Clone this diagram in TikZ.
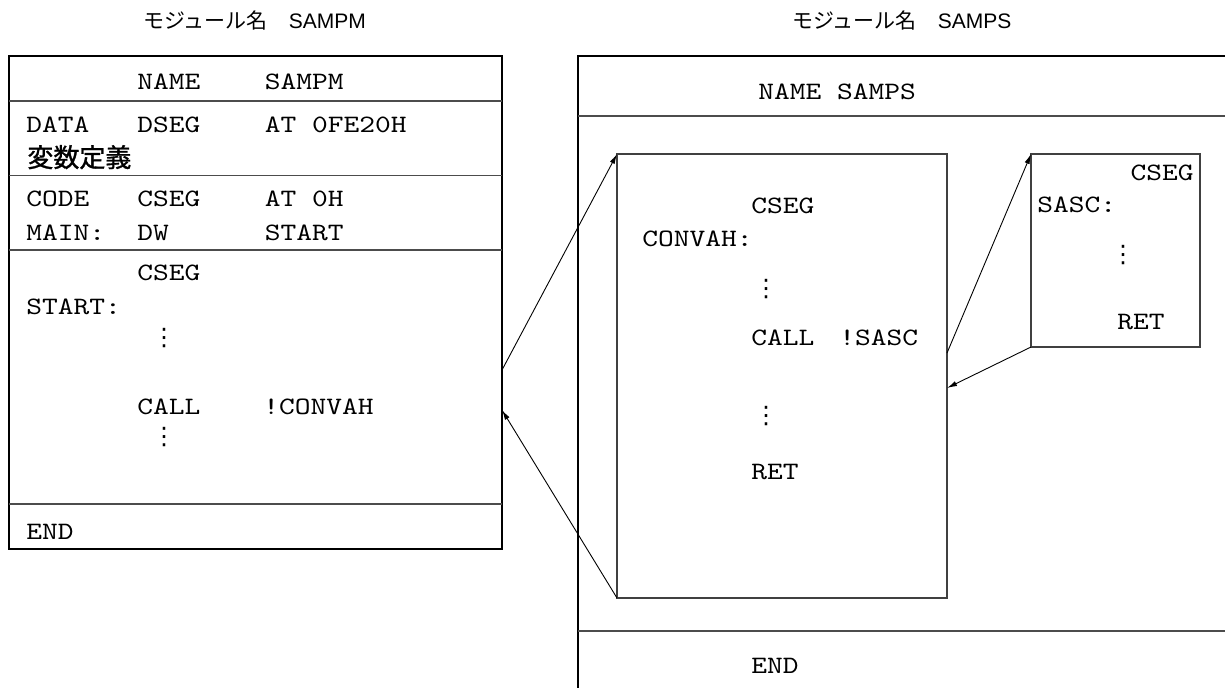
\documentclass[tikz,border=0pt]{standalone}
\usepackage{fontspec}
\setmainfont{Liberation Sans}
\newfontfamily\monofam{lmmono10-regular}[Extension=.otf, FakeStretch=1.2]
\newfontfamily\cjk{Noto Sans CJK JP}
\newfontfamily\cjkb{Noto Sans CJK JP}[FakeBold=1.2]
\newfontfamily\symfam{DejaVu Sans}
\usetikzlibrary{arrows.meta}
\begin{document}
\begin{tikzpicture}[x=0.5pt,y=-0.5pt,
  code/.style={font=\monofam\fontsize{12.5}{15}\selectfont, inner sep=0pt, anchor=base west},
  codeR/.style={code, anchor=base east},
  vdots/.style={font=\symfam\fontsize{12}{14}\selectfont, inner sep=0pt, anchor=center},
  title/.style={font=\fontsize{10.5}{12}\selectfont, inner sep=0pt, anchor=base west},
  thickbox/.style={draw=black, line width=1.2pt, inner sep=0pt, outer sep=0pt},
  thinbox/.style={draw=black!75, line width=0.6pt, inner sep=0pt, outer sep=0pt},
  divider/.style={draw=black!70, line width=0.6pt},
  arr/.style={draw=black, line width=0.45pt, -{Latex[length=5pt,width=2.6pt]}}
]
\useasboundingbox (0,0) rectangle (1225,687);
\clip (0,0) rectangle (1225,687);
\fill[white] (0,0) rectangle (1225,687);

% titles
\node[title] (t1) at (143,28) {{\cjk モジュール名　}SAMPM};
\node[title] (t2) at (792,28) {{\cjk モジュール名　}SAMPS};

% left module box
\node[thickbox, minimum width=246.5pt, minimum height=246.5pt] (L) at (255.5,302.5) {};
\draw[divider] (9,101) -- (502,101);
\draw[divider] (9,175.5) -- (502,175.5);
\draw[divider] (9,250) -- (502,250);
\draw[divider] (9,504) -- (502,504);

\node[code] (l1a) at (137,89.5) {NAME};
\node[code] (l1b) at (264.5,89.5) {SAMPM};
\node[code] (l2a) at (26,132.5) {DATA};
\node[code] (l2b) at (137,132.5) {DSEG};
\node[code] (l2c) at (264.5,132.5) {AT 0FE20H};
\node[inner sep=0pt, anchor=base west, font=\cjkb\fontsize{13}{15}\selectfont] (l3) at (27,167) {変数定義};
\node[code] (l4a) at (26,206.5) {CODE};
\node[code] (l4b) at (137,206.5) {CSEG};
\node[code] (l4c) at (264.5,206.5) {AT 0H};
\node[code] (l5a) at (26,240.5) {MAIN:};
\node[code] (l5b) at (137,240.5) {DW};
\node[code] (l5c) at (264.5,240.5) {START};
\node[code] (l6) at (137,280.5) {CSEG};
\node[code] (l7) at (26,314.5) {START:};
\node[vdots] (ld1) at (164,338) {⋮};
\node[code] (l8a) at (137,414.5) {CALL};
\node[code] (l8b) at (263,414.5) {!CONVAH};
\node[vdots] (ld2) at (164,437) {⋮};
\node[code] (l9) at (26,539.5) {END};

% right module box (extends beyond the picture)
\node[thickbox, minimum width=350pt, minimum height=350pt] (R) at (928,406) {};
\draw[divider] (578,116) -- (1280,116);
\draw[divider] (578,631) -- (1280,631);
\node[code] (r1) at (758,99.5) {NAME SAMPS};
\node[code] (r9) at (751,673.5) {END};

% CONVAH box
\node[thinbox, minimum width=165pt, minimum height=222pt] (C) at (782,376) {};
\node[code] (c1) at (751,213.5) {CSEG};
\node[code] (c2) at (642,246) {CONVAH:};
\node[vdots] (cd1) at (766,289) {⋮};
\node[code] (c3a) at (751,345.5) {CALL};
\node[code] (c3b) at (839,345.5) {!SASC};
\node[vdots] (cd2) at (766,416) {⋮};
\node[code] (c4) at (751,479.5) {RET};

% SASC box
\node[thinbox, minimum width=84.5pt, minimum height=96.5pt] (S) at (1115.5,250.5) {};
\node[codeR] (s1) at (1194,180.5) {CSEG};
\node[code] (s2) at (1037,212.5) {SASC:};
\node[vdots] (sd1) at (1123,255) {⋮};
\node[code] (s3) at (1117,329.5) {RET};

% connectors
\coordinate (La) at (502,370);
\coordinate (Lb) at (502,410);
\coordinate (Ca) at (947,353);
\coordinate (Cb) at (947,388);
\draw[arr] (La) -- (C.north west);
\draw[arr] (C.south west) -- (Lb);
\draw[arr] (Ca) -- (S.north west);
\draw[arr] (S.south west) -- (Cb);
\end{tikzpicture}
\end{document}
